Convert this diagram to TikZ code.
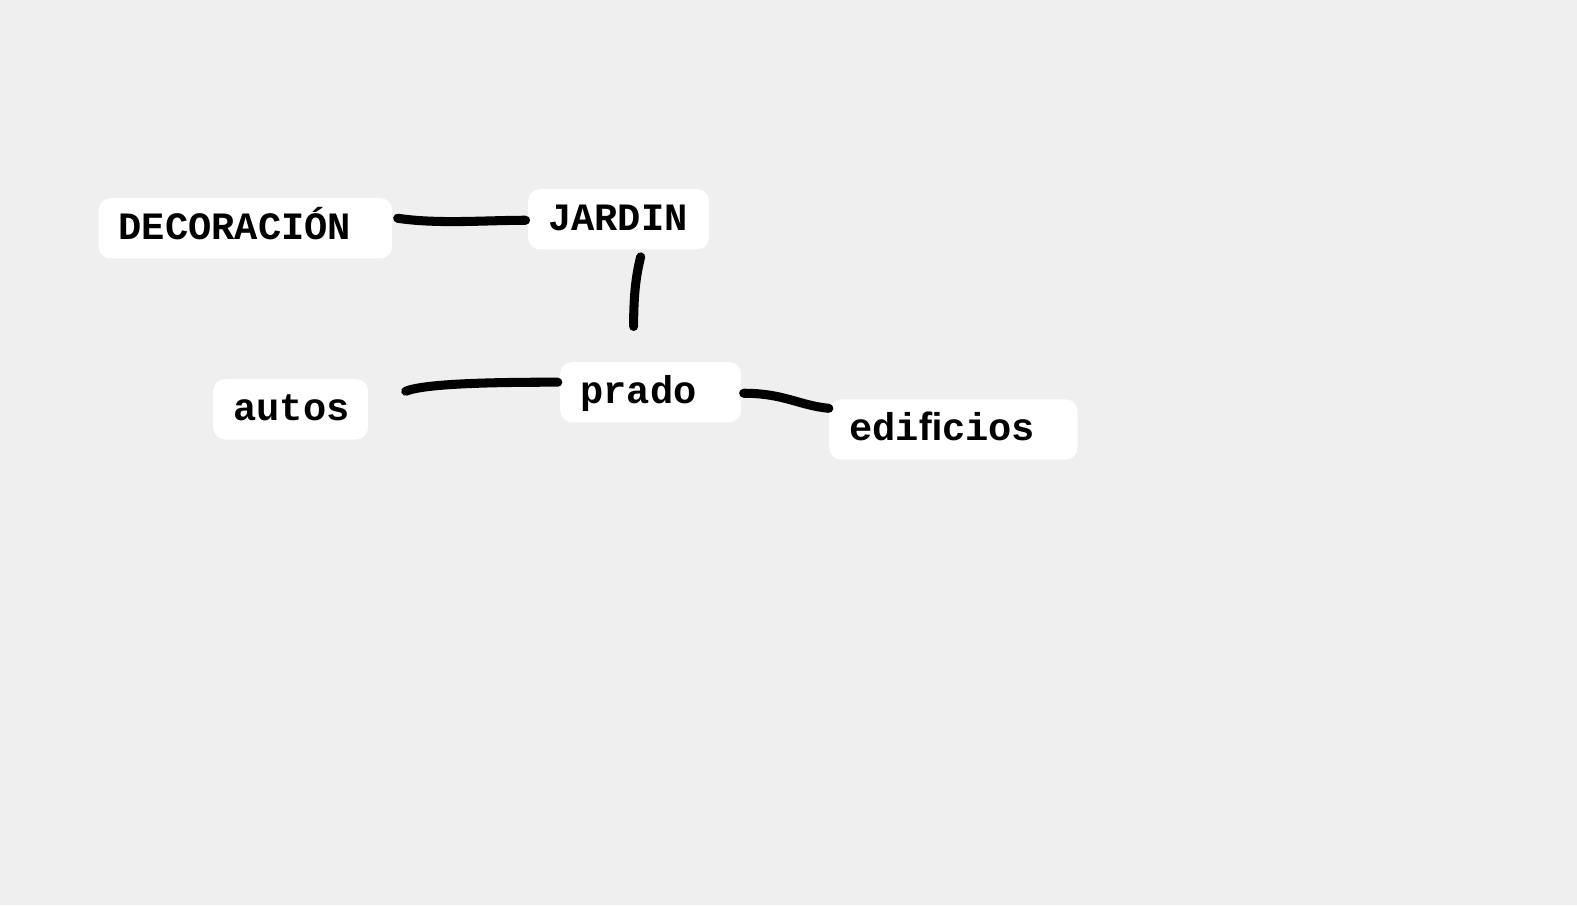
\documentclass[tikz,border=0pt]{standalone}
\usepackage{fontspec}
\setmonofont{Liberation Mono}
\usetikzlibrary{calc}
\definecolor{paper}{RGB}{239,239,239}

\begin{document}
\begin{tikzpicture}[
    x=0.5pt, y=-0.5pt,
    word/.style={fill=white, rounded corners=6pt, minimum height=30pt, inner ysep=0pt, inner xsep=10pt,
                 text height=15pt, text depth=4pt,
                 align=left, font=\ttfamily\bfseries\fontsize{19.25}{23}\selectfont},
    ink/.style={line width=4.5pt, line cap=round, black}
]
    \fill[paper] (0,0) rectangle (1568,900);
    \useasboundingbox (0,0) rectangle (1568,900);

    \node[word, text width=126pt] (deco) at (244, 227) {DECORACIÓN};
    \node[word, text width=70pt] (jardin) at (615, 218) {JARDIN};
    \node[word, text width=57pt] (autos) at (289, 407) {autos};
    \node[word, text width=70pt] (prado) at (647, 390) {prado};
    \node[word, text width=103.5pt] (edif) at (948, 427) {ediﬁcios};

    % trazos a mano
    \draw[ink] ($(deco.east)+(5,-10)$) .. controls +(40,6) and +(-40,0) .. ($(jardin.west)+(-2,1)$);
    \draw[ink] ($(jardin.south)+(22,7)$) .. controls +(-5,20) and +(0,-30) .. ($(prado.north)+(-17,-35)$);
    \draw[ink] ($(autos.east)+(37,-18)$) .. controls +(20,-8) and +(-60,0) .. ($(prado.west)+(-2,-10)$);
    \draw[ink] ($(prado.east)+(2,1)$) .. controls +(40,0) and +(-30,-3) .. ($(edif.west)+(0,-21)$);
\end{tikzpicture}
\end{document}
